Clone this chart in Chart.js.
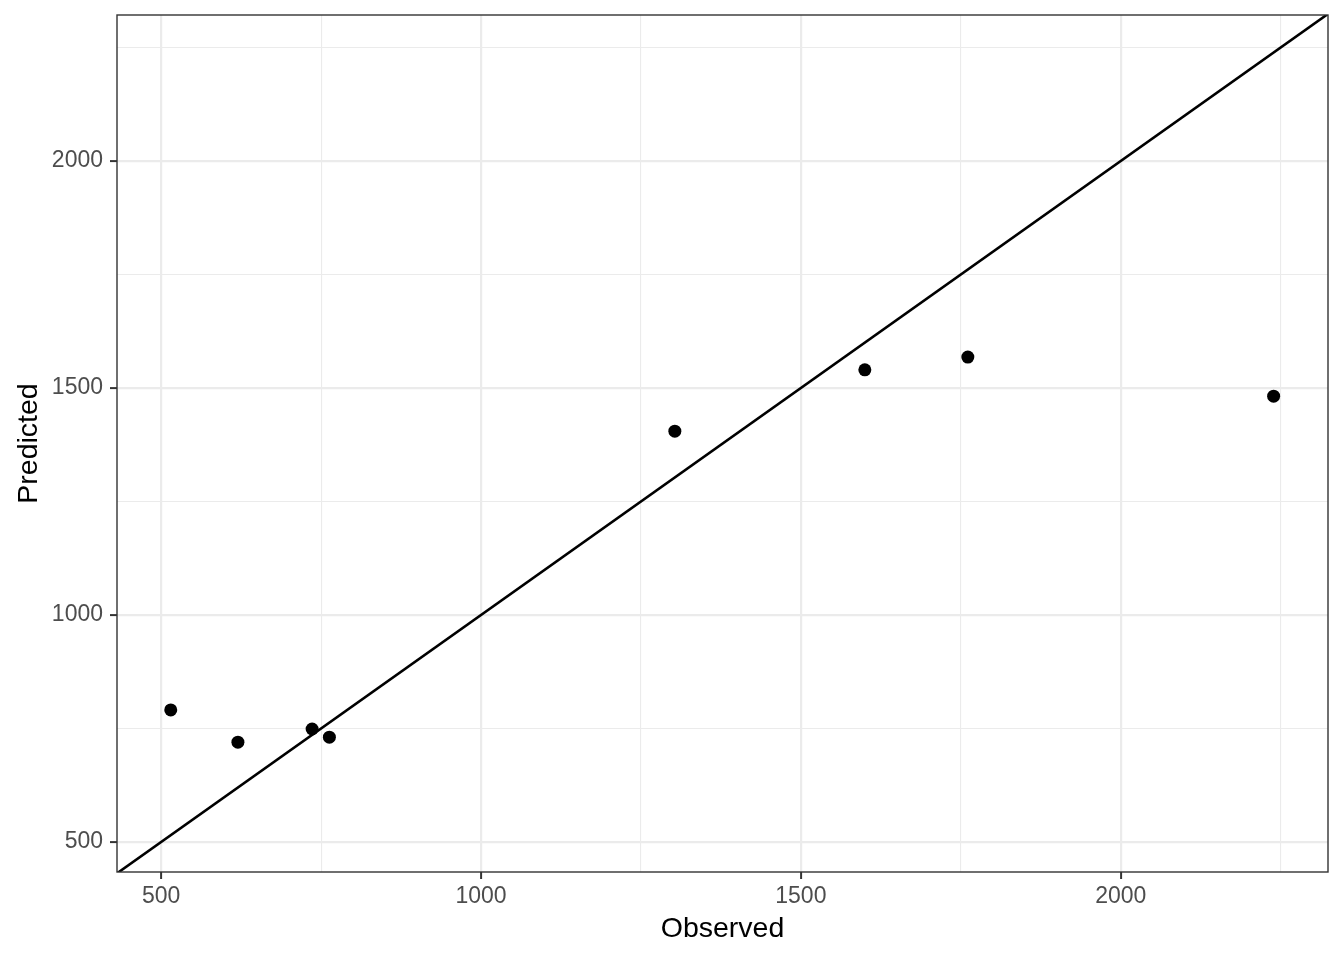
<!DOCTYPE html>
<html>
<head>
<meta charset="utf-8">
<script src="https://cdn.jsdelivr.net/npm/chart.js@4.4.1/dist/chart.umd.min.js"></script>
<style>
html,body{margin:0;padding:0;background:#fff;}
#wrap{width:1344px;height:960px;position:relative;}
</style>
</head>
<body>
<div id="wrap"><canvas id="c" width="1344" height="960"></canvas></div>
<script>
const observed  = [515, 620, 736, 763, 1303, 1600, 1761, 2239];
const predicted = [791, 720, 749, 731, 1405, 1540, 1568, 1482];
const identityEnds = [0, 3000];
const xTitle = 'Observed';
const yTitle = 'Predicted';

const points = observed.map((v, i) => ({x: v, y: predicted[i]}));
const identity = identityEnds.map(v => ({x: v, y: v}));

const borderPlugin = {
  id: 'panelBorder',
  afterDraw(chart) {
    const {ctx, chartArea: a} = chart;
    ctx.save();
    ctx.strokeStyle = '#333333';
    ctx.lineWidth = 1.4;
    ctx.strokeRect(a.left, a.top, a.right - a.left, a.bottom - a.top);
    ctx.restore();
  }
};

const isMajor = v => Math.abs(v % 500) < 1e-6;
const gridOpts = {
  color: '#EBEBEB',
  lineWidth: c => isMajor(c.tick.value) ? 2.2 : 1.1,
  tickColor: c => isMajor(c.tick.value) ? '#333333' : 'rgba(0,0,0,0)',
  tickLength: 7,
  tickWidth: 2,
  drawTicks: true
};

new Chart(document.getElementById('c'), {
  type: 'scatter',
  data: {
    datasets: [
      {
        type: 'line',
        data: identity,
        borderColor: '#000000',
        borderWidth: 2.5,
        pointRadius: 0,
        fill: false,
        order: 2
      },
      {
        data: points,
        backgroundColor: '#000000',
        borderWidth: 0,
        pointRadius: 6.5,
        pointHoverRadius: 6.5,
        order: 1
      }
    ]
  },
  options: {
    responsive: false,
    animation: false,
    events: [],
    layout: {padding: {left: 0, top: 15, right: 16, bottom: 0}},
    plugins: {legend: {display: false}, tooltip: {enabled: false}},
    scales: {
      x: {
        type: 'linear',
        min: 431,
        max: 2324,
        border: {display: false},
        grid: gridOpts,
        afterFit(s) { s.height = 88; s.paddingLeft = 0; s.paddingRight = 0; },
        ticks: {
          stepSize: 250,
          includeBounds: false,
          autoSkip: false,
          maxRotation: 0,
          padding: 4,
          color: '#4D4D4D',
          font: {family: 'Liberation Sans, Arial, sans-serif', size: 23},
          callback: v => isMajor(v) ? String(v) : ''
        },
        title: {
          display: true,
          text: xTitle,
          color: '#000000',
          font: {family: 'Liberation Sans, Arial, sans-serif', size: 28.5},
          padding: {top: 0, bottom: 14}
        }
      },
      y: {
        type: 'linear',
        min: 434,
        max: 2321.5,
        border: {display: false},
        grid: gridOpts,
        afterFit(s) { s.width = 117; s.paddingTop = 0; s.paddingBottom = 0; },
        ticks: {
          stepSize: 250,
          includeBounds: false,
          autoSkip: false,
          padding: 7,
          color: '#4D4D4D',
          font: {family: 'Liberation Sans, Arial, sans-serif', size: 23},
          callback: v => isMajor(v) ? String(v) : ''
        },
        title: {
          display: true,
          text: yTitle,
          color: '#000000',
          font: {family: 'Liberation Sans, Arial, sans-serif', size: 28.5},
          padding: {top: 12, bottom: 0}
        }
      }
    }
  },
  plugins: [borderPlugin]
});
</script>
</body>
</html>
